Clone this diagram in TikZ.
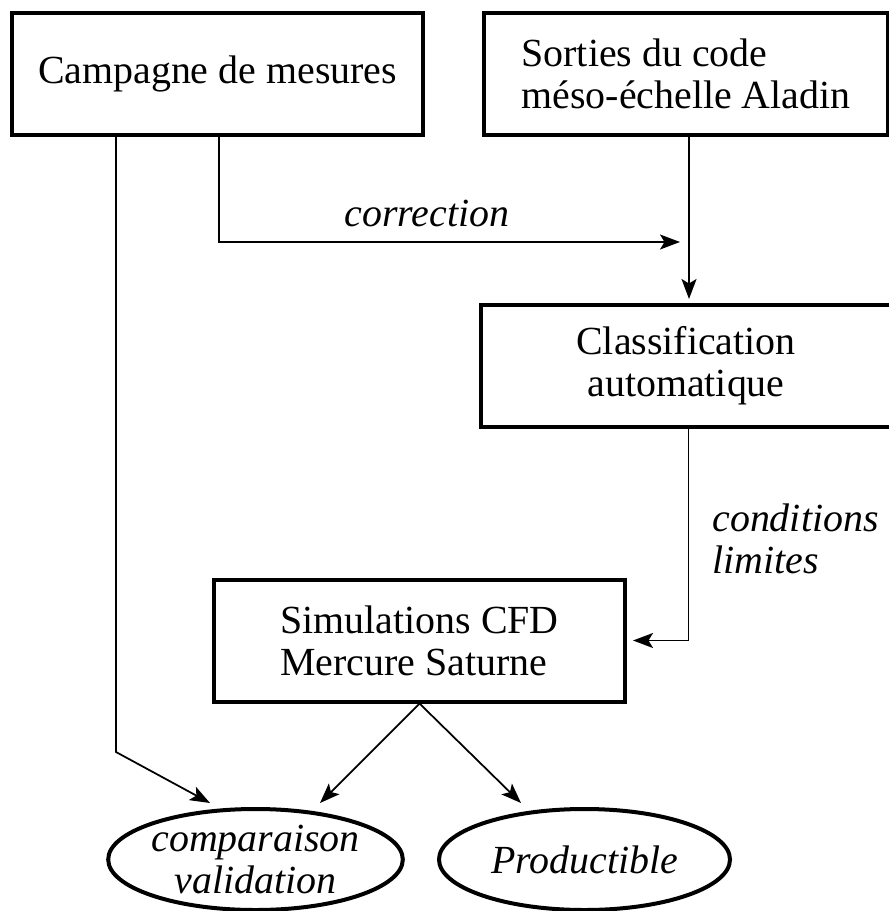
\documentclass[tikz,border=0pt]{standalone}
\usepackage{fontspec}
\setmainfont{Liberation Serif}
\usetikzlibrary{
    arrows.meta,
    positioning,
    shapes.geometric
}

\begin{document}
\begin{tikzpicture}[
    x=0.2mm, y=-0.2mm,
    node distance=11.4mm,
    box/.style={rectangle, draw, line width=0.8mm, minimum width=82.2mm, minimum height=24.4mm, inner sep=0pt, align=center, font=\fontsize{22.7}{24}\selectfont},
    oval/.style={ellipse, draw, line width=0.8mm, minimum width=58.2mm, minimum height=20.2mm, inner sep=0pt, align=center, font=\fontsize{22.7}{24}\selectfont\itshape},
    lbl/.style={inner sep=0pt, align=left, font=\fontsize{22.7}{24}\selectfont\itshape},
    arrow/.style={-{Stealth[length=4mm, width=3mm, inset=0.9mm]}, line width=0.35mm}
]
\useasboundingbox (0,0) rectangle (888,911);

% Sources
\node[box] (camp) at (217.5,74) {Campagne de mesures};
\node[box, minimum width=80.8mm, align=left, right=of camp] (sorties) {Sorties du code\\m\'eso-\'echelle Aladin};

% Processing
\node[box, below=33.2mm of sorties] (classif) {Classification\\automatique};
\node[box, align=left] (simu) at (419.5,640.5) {Simulations CFD\\Mercure Saturne};

% Results
\node[oval] (comp) at (255.5,859.5) {comparaison\\validation};
\node[oval] (prod) at (584.5,859.5) {Productible};

% Arrow ends
\coordinate (corr) at (680,242);
\coordinate (bend) at (116,752);
\coordinate (tipA) at (210,803);
\coordinate (tipB) at (320,803);
\coordinate (tipC) at (521,803);

% Arrows
\draw[arrow] ([xshift=-20.3mm]camp.south) -- (bend) -- (tipA);
\draw[arrow] ([xshift=0.3mm]camp.south) |- (corr);
\draw[arrow, shorten >=0.8mm] ([xshift=0.6mm]sorties.south) -- ([xshift=0.6mm]sorties.south |- classif.north);
\draw[arrow, shorten >=1.2mm] ([xshift=0.5mm]classif.south) |- (simu.east);
\draw[arrow] (simu.south) -- (tipB);
\draw[arrow] (simu.south) -- (tipC);

% Labels
\node[lbl] (corrlbl) at (427,213) {correction};
\node[lbl, anchor=west] (condlbl) at (712,539) {conditions\\limites};
\end{tikzpicture}
\end{document}
